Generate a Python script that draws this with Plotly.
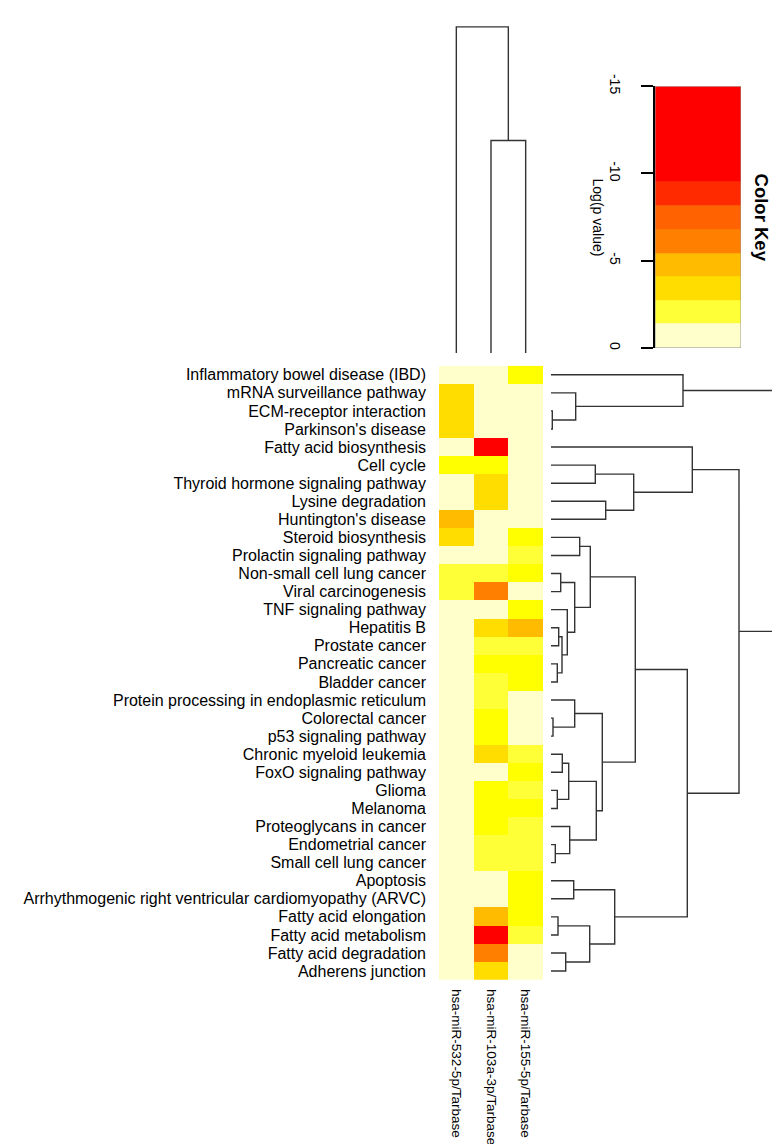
import numpy as np
import plotly.graph_objects as go

# pathways (rows, top to bottom) and miRNA targets (columns)
pathways = [
    "Inflammatory bowel disease (IBD)", "mRNA surveillance pathway", "ECM-receptor interaction",
    "Parkinson's disease", "Fatty acid biosynthesis", "Cell cycle",
    "Thyroid hormone signaling pathway", "Lysine degradation", "Huntington's disease",
    "Steroid biosynthesis", "Prolactin signaling pathway", "Non-small cell lung cancer",
    "Viral carcinogenesis", "TNF signaling pathway", "Hepatitis B", "Prostate cancer",
    "Pancreatic cancer", "Bladder cancer", "Protein processing in endoplasmic reticulum",
    "Colorectal cancer", "p53 signaling pathway", "Chronic myeloid leukemia",
    "FoxO signaling pathway", "Glioma", "Melanoma", "Proteoglycans in cancer",
    "Endometrial cancer", "Small cell lung cancer", "Apoptosis",
    "Arrhythmogenic right ventricular cardiomyopathy (ARVC)", "Fatty acid elongation",
    "Fatty acid metabolism", "Fatty acid degradation", "Adherens junction",
]
mirnas = ["hsa-miR-532-5p/Tarbase", "hsa-miR-103a-3p/Tarbase", "hsa-miR-155-5p/Tarbase"]

# log(p value) per pathway, one list per miRNA
mir532 = [-0.6, -3.6, -3.6, -3.6, -0.6, -2.9, -0.6, -0.6, -4.7, -3.6, -0.6, -2.0,
          -2.0, -0.6, -0.6, -0.6, -0.6, -0.6, -0.6, -0.6, -0.6, -0.6, -0.6, -0.6,
          -0.6, -0.6, -0.6, -0.6, -0.6, -0.6, -0.6, -0.6, -0.6, -0.6]
mir103 = [-0.6, -0.6, -0.6, -0.6, -12.0, -2.9, -3.6, -3.6, -0.6, -0.6, -0.6, -2.0,
          -6.1, -0.6, -3.7, -2.0, -2.9, -2.0, -2.0, -2.9, -2.9, -3.6, -0.6, -2.9,
          -2.9, -2.9, -2.0, -2.0, -0.6, -0.6, -4.7, -12.5, -6.1, -3.6]
mir155 = [-2.9, -0.6, -0.6, -0.6, -0.6, -0.6, -0.6, -0.6, -0.6, -2.9, -2.0, -2.9,
          -0.6, -2.9, -4.8, -2.0, -2.9, -2.9, -0.6, -0.6, -0.6, -2.0, -2.9, -2.0,
          -2.9, -2.0, -2.0, -2.0, -2.9, -2.9, -2.9, -2.0, -0.6, -0.6]

# colour bands used for the cells
heat_breaks = [-15, -9.5, -8.15, -6.8, -5.45, -4.1, -3.2, -2.5, -1.4, 0]
heat_colors = ["#FF0000", "#FF2A00", "#FF6200", "#FF8000", "#FFBB00",
               "#FFDD00", "#FFFF00", "#FFFF38", "#FFFFCC"]

# colour key bands
key_breaks = [-15, -9.55, -8.2, -6.8, -5.45, -4.1, -2.75, -1.4, 0]
key_colors = ["#FF0000", "#FF2A00", "#FF6200", "#FF8000", "#FFBB00",
              "#FFDD00", "#FFFF38", "#FFFFCC"]

# row dendrogram: (child a, child b, height); leaves 0..33, merges numbered from 34
row_merges = [
    (2, 3, 0.13), (1, 34, 2.47), (0, 35, 13.2), (5, 6, 4.43), (7, 8, 5.47),
    (37, 38, 8.27), (4, 39, 14.13), (9, 10, 2.87), (11, 12, 0.97), (14, 15, 0.77),
    (16, 17, 0.63), (43, 44, 1.10), (13, 45, 1.63), (42, 46, 2.37), (41, 47, 3.93),
    (19, 20, 0.20), (18, 49, 2.37), (21, 22, 1.13), (23, 24, 0.63), (51, 52, 1.77),
    (26, 27, 0.43), (25, 54, 1.87), (53, 55, 4.53), (50, 56, 5.13), (48, 57, 8.43),
    (28, 29, 2.27), (30, 31, 0.70), (32, 33, 1.47), (60, 61, 3.87), (59, 62, 6.37),
    (58, 63, 13.63), (40, 64, 18.8), (36, 65, 22.47),
]
# column dendrogram: leaves 0..2, merges numbered from 3
col_merges = [(1, 2, 21.5), (0, 3, 33.0)]

W, H = 780, 1144
LINE = dict(color="#333333", width=1.4)
FONT = "Liberation Sans"


def discrete_scale(colors):
    n = len(colors)
    scale = []
    for i, c in enumerate(colors):
        scale.append([i / n, c])
        scale.append([(i + 1) / n, c])
    return scale


def dendro_segments(merges, n_leaves):
    pos = {i: float(i) for i in range(n_leaves)}
    hgt = {i: 0.0 for i in range(n_leaves)}
    p, h = [], []
    for k, (a, b, d) in enumerate(merges):
        p += [pos[a], pos[a], pos[b], pos[b], None]
        h += [hgt[a], d, d, hgt[b], None]
        pos[n_leaves + k] = (pos[a] + pos[b]) / 2
        hgt[n_leaves + k] = d
    return p, h


def px_x(x):
    return x / W


def px_y(y):
    return 1 - y / H


values = np.array([mir532, mir103, mir155]).T
idx = np.clip(np.digitize(values, heat_breaks) - 1, 0, len(heat_colors) - 1)

fig = go.Figure()

fig.add_trace(go.Heatmap(
    z=idx, x=[0, 1, 2], y=list(range(len(pathways))),
    colorscale=discrete_scale(heat_colors), zmin=-0.5, zmax=len(heat_colors) - 0.5,
    showscale=False, xaxis="x", yaxis="y",
    customdata=values, hovertemplate="%{customdata:.1f}<extra></extra>",
))

cp, ch = dendro_segments(col_merges, len(mirnas))
fig.add_trace(go.Scatter(x=cp, y=ch, mode="lines", line=LINE, xaxis="x2", yaxis="y2",
                         hoverinfo="skip", showlegend=False))

rp, rh = dendro_segments(row_merges, len(pathways))
fig.add_trace(go.Scatter(x=rh, y=rp, mode="lines", line=LINE, xaxis="x3", yaxis="y3",
                         hoverinfo="skip", showlegend=False))

fig.add_trace(go.Heatmap(
    z=[[i] for i in range(len(key_colors))], x=[0, 1], y=key_breaks,
    colorscale=discrete_scale(key_colors), zmin=-0.5, zmax=len(key_colors) - 0.5,
    showscale=False, xaxis="x4", yaxis="y4", hoverinfo="skip",
))

hm_x = [px_x(431), px_x(535)]
hm_y = [px_y(972), px_y(350)]
hidden = dict(visible=False, showgrid=False, zeroline=False)

fig.update_layout(
    width=W, height=H,
    margin=dict(l=0, r=0, t=0, b=0),
    paper_bgcolor="white", plot_bgcolor="white",
    showlegend=False,
    font=dict(family=FONT, color="black"),
    xaxis=dict(domain=hm_x, range=[-0.5, 2.5], anchor="y", tickvals=[0, 1, 2],
               ticktext=mirnas, tickangle=90, ticks="", showgrid=False, zeroline=False,
               ticklabelstandoff=8, tickfont=dict(family=FONT, size=13.5)),
    yaxis=dict(domain=hm_y, range=[len(pathways) - 0.5, -0.5], anchor="x",
               tickvals=list(range(len(pathways))), ticktext=pathways, ticks="",
               showgrid=False, zeroline=False, ticklabelstandoff=12,
               tickfont=dict(family=FONT, size=16)),
    xaxis2=dict(domain=hm_x, range=[-0.5, 2.5], anchor="y2", **hidden),
    yaxis2=dict(domain=[px_y(337), px_y(5)], range=[0, 33.2], anchor="x2", **hidden),
    xaxis3=dict(domain=[px_x(543), px_x(770)], range=[0, 22.7], anchor="y3", **hidden),
    yaxis3=dict(domain=hm_y, range=[len(pathways) - 0.5, -0.5], anchor="x3", **hidden),
    xaxis4=dict(domain=[px_x(647), px_x(733)], range=[0, 1], anchor="y4", **hidden),
    yaxis4=dict(domain=[px_y(332), px_y(67)], range=[0, -15], anchor="x4",
                tickvals=[-15, -10, -5, 0], ticktext=["-15", "-10", "-5", "0"],
                ticks="outside", ticklen=12, tickwidth=1.5, tickcolor="black",
                tickangle=90, showline=True, linecolor="black", linewidth=1.5,
                showgrid=False, zeroline=False, ticklabelstandoff=14,
                tickfont=dict(family=FONT, size=14)),
    shapes=[dict(type="rect", xref="x4", yref="y4", x0=0, x1=1, y0=0, y1=-15,
                 line=dict(color="#999999", width=1), layer="above")],
    annotations=[
        dict(text="Log(p value)", x=px_x(590), y=px_y(200), xref="paper", yref="paper",
             textangle=90, showarrow=False, xanchor="center", yanchor="middle",
             font=dict(family=FONT, size=14)),
        dict(text="<b>Color Key</b>", x=px_x(753), y=px_y(200), xref="paper", yref="paper",
             textangle=90, showarrow=False, xanchor="center", yanchor="middle",
             font=dict(family=FONT, size=18.5)),
    ],
)

fig.write_html("out.html")
